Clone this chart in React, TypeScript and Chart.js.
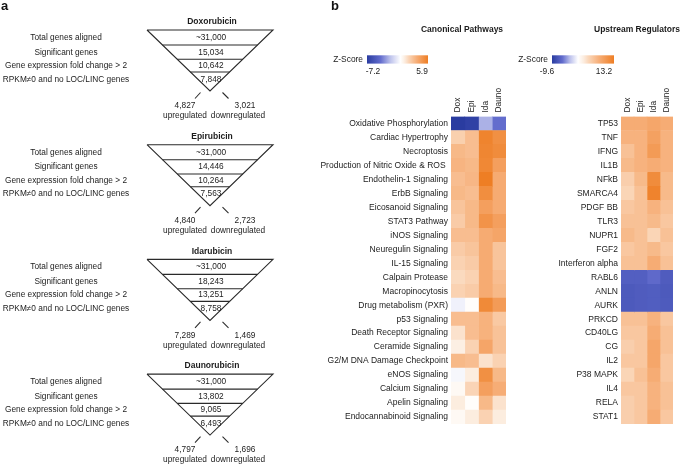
import React, { useEffect, useRef } from 'react';
import { Chart, registerables } from 'chart.js';

Chart.register(...registerables);

const FONT = '"Liberation Sans", Arial, Helvetica, sans-serif';
const TEXT = '#1c1c1c';
const LINE = '#2a2a2a';

// ---------- Panel a data ----------
const drugs = ['Doxorubicin', 'Epirubicin', 'Idarubicin', 'Daunorubicin'];
const stepLabels = [
  'Total genes aligned',
  'Significant genes',
  'Gene expression fold change > 2',
  'RPKM\u22600 and no LOC/LINC genes',
];
const totalAligned = ['~31,000', '~31,000', '~31,000', '~31,000'];
const significantGenes = [15034, 14446, 18243, 13802];
const foldChangeGenes = [10642, 10264, 13251, 9065];
const filteredGenes = [7848, 7563, 8758, 6493];
const upregulated = [4827, 4840, 7289, 4797];
const downregulated = [3021, 2723, 1469, 1696];

// ---------- Panel b data ----------
const drugShort = ['Dox', 'Epi', 'Ida', 'Dauno'];

const canonicalPathways = [
  'Oxidative Phosphorylation',
  'Cardiac Hypertrophy',
  'Necroptosis',
  'Production of Nitric Oxide & ROS ',
  'Endothelin-1 Signaling',
  'ErbB Signaling',
  'Eicosanoid Signaling',
  'STAT3 Pathway',
  'iNOS Signaling',
  'Neuregulin Signaling',
  'IL-15 Signaling',
  'Calpain Protease',
  'Macropinocytosis',
  'Drug metabolism (PXR)',
  'p53 Signaling',
  'Death Receptor Signaling',
  'Ceramide Signaling',
  'G2/M DNA Damage Checkpoint',
  'eNOS Signaling',
  'Calcium Signaling',
  'Apelin Signaling',
  'Endocannabinoid Signaling',
];
const cpDox = [-7.2, 2.0, 3.0, 3.2, 2.8, 3.0, 2.5, 2.2, 2.8, 2.2, 1.9, 1.6, 1.9, -0.5, 2.8, 1.3, 0.8, 3.0, -0.3, 0.3, 0.9, 0.3];
const cpEpi = [-6.9, 2.8, 2.8, 3.0, 3.1, 2.8, 3.0, 3.0, 2.8, 2.5, 2.2, 1.9, 2.2, 0.1, 2.8, 2.8, 1.9, 2.8, 0.9, 1.8, 0.1, 0.9];
const cpIda = [-2.6, 5.6, 5.5, 5.4, 5.9, 5.1, 4.2, 4.8, 3.6, 3.6, 3.6, 3.6, 3.6, 5.3, 3.3, 3.3, 3.9, 1.3, 5.0, 4.2, 3.0, 1.9];
const cpDauno = [-4.3, 5.0, 5.2, 4.2, 3.6, 3.6, 3.6, 4.2, 3.9, 2.5, 2.5, 2.8, 3.0, 4.4, 2.3, 2.6, 2.6, 1.9, 3.0, 3.5, 1.3, 0.9];
const cpRange = [-7.2, 5.9];

const upstreamRegulators = [
  'TP53', 'TNF', 'IFNG', 'IL1B', 'NFkB', 'SMARCA4', 'PDGF BB', 'TLR3', 'NUPR1', 'FGF2',
  'Interferon alpha', 'RABL6', 'ANLN', 'AURK', 'PRKCD', 'CD40LG', 'CG', 'IL2', 'P38 MAPK',
  'IL4', 'RELA', 'STAT1',
];
const urDox = [7.9, 7.3, 5.9, 6.6, 4.6, 4.0, 5.3, 5.9, 6.6, 5.3, 5.9, -6.8, -7.2, -7.2, 5.9, 5.3, 4.6, 5.3, 4.0, 5.3, 4.6, 4.6];
const urEpi = [7.9, 7.3, 7.3, 7.3, 6.6, 5.9, 5.9, 5.9, 5.9, 5.9, 5.9, -6.8, -7.0, -7.0, 5.9, 5.3, 5.3, 5.3, 5.9, 5.3, 5.3, 5.3];
const urIda = [8.6, 9.2, 9.9, 7.9, 11.6, 12.6, 7.3, 6.6, 4.0, 6.6, 7.9, -6.0, -6.9, -6.9, 7.3, 7.9, 8.6, 8.6, 7.9, 7.3, 7.3, 7.9];
const urDauno = [7.9, 7.3, 7.3, 7.3, 6.6, 6.6, 5.9, 5.3, 5.9, 5.3, 5.9, -7.0, -7.2, -7.1, 5.3, 5.9, 5.9, 5.3, 5.3, 5.9, 5.9, 5.3];
const urRange = [-9.6, 13.2];

// ---------- colour scale ----------
type Stop = [number, [number, number, number]];
const blueStops: Stop[] = [
  [0, [255, 255, 255]],
  [0.3, [190, 195, 236]],
  [0.6, [98, 108, 205]],
  [1, [42, 60, 160]],
];
const orangeStops: Stop[] = [
  [0, [255, 255, 255]],
  [0.15, [252, 237, 224]],
  [0.3, [250, 213, 183]],
  [0.6, [246, 172, 116]],
  [1, [238, 126, 36]],
];
function interp(stops: Stop[], t: number) {
  t = Math.max(0, Math.min(1, t));
  for (let i = 1; i < stops.length; i++) {
    const [t1, c1] = stops[i];
    const [t0, c0] = stops[i - 1];
    if (t <= t1) {
      const f = (t - t0) / (t1 - t0);
      const c = c0.map((v, k) => Math.round(v + (c1[k] - v) * f));
      return `rgb(${c[0]},${c[1]},${c[2]})`;
    }
  }
  const c = stops[stops.length - 1][1];
  return `rgb(${c[0]},${c[1]},${c[2]})`;
}
function colorFor(z: number, min: number, max: number) {
  return z < 0 ? interp(blueStops, z / min) : interp(orangeStops, z / max);
}

// ---------- funnel layout ----------
const FUN = {
  step: 114.7,
  top: 30,
  left: 147,
  right: 273,
  apexX: 210,
  apexY: 91,
  levels: [45, 59.3, 72],
  rowY: [37.7, 52.3, 65.7, 79.3],
  labelX: 66,
  numX: 211,
  titleX: 212,
  titleY: 22,
  countY: 106,
  wordY: 116,
};

function sideX(y: number, side: 'l' | 'r') {
  const f = (y - FUN.top) / (FUN.apexY - FUN.top);
  return side === 'l'
    ? FUN.left + (FUN.apexX - FUN.left) * f
    : FUN.right - (FUN.right - FUN.apexX) * f;
}

const fmt = (n: number) => n.toLocaleString('en-US');

function FunnelPanel() {
  const ref = useRef<HTMLCanvasElement | null>(null);
  useEffect(() => {
    const datasets: any[] = [];
    const seg = (pts: { x: number; y: number }[]) =>
      datasets.push({
        data: pts,
        showLine: true,
        pointRadius: 0,
        borderColor: LINE,
        borderWidth: 1.1,
        fill: false,
        tension: 0,
      });
    drugs.forEach((_, i) => {
      const o = i * FUN.step;
      seg([
        { x: FUN.left, y: FUN.top + o },
        { x: FUN.right, y: FUN.top + o },
        { x: FUN.apexX, y: FUN.apexY + o },
        { x: FUN.left, y: FUN.top + o },
      ]);
      FUN.levels.forEach((ly) => {
        seg([
          { x: sideX(ly, 'l'), y: ly + o },
          { x: sideX(ly, 'r'), y: ly + o },
        ]);
      });
      seg([
        { x: 195, y: 98.5 + o },
        { x: 200.5, y: 92.5 + o },
      ]);
      seg([
        { x: 222.5, y: 92.5 + o },
        { x: 228.5, y: 98.5 + o },
      ]);
    });

    const textPlugin = {
      id: 'funnelText',
      afterDraw(chart: any) {
        const { ctx, scales } = chart;
        const X = (v: number) => scales.x.getPixelForValue(v);
        const Y = (v: number) => scales.y.getPixelForValue(v);
        ctx.save();
        ctx.fillStyle = '#111';
        ctx.textBaseline = 'top';
        ctx.textAlign = 'left';
        ctx.font = `bold 13px ${FONT}`;
        ctx.fillText('a', X(1), Y(0));
        ctx.fillText('b', X(331), Y(0));
        ctx.fillStyle = TEXT;
        ctx.textBaseline = 'middle';
        ctx.textAlign = 'center';
        drugs.forEach((name, i) => {
          const o = i * FUN.step;
          ctx.font = `bold 8.5px ${FONT}`;
          ctx.fillText(name, X(FUN.titleX), Y(FUN.titleY + o));
          ctx.font = `8.3px ${FONT}`;
          const vals = [
            totalAligned[i],
            fmt(significantGenes[i]),
            fmt(foldChangeGenes[i]),
            fmt(filteredGenes[i]),
          ];
          stepLabels.forEach((lab, k) => {
            ctx.fillText(lab, X(FUN.labelX), Y(FUN.rowY[k] + o));
            ctx.fillText(vals[k], X(FUN.numX), Y(FUN.rowY[k] + o));
          });
          ctx.fillText(fmt(upregulated[i]), X(185), Y(FUN.countY + o));
          ctx.fillText('upregulated', X(185), Y(FUN.wordY + o));
          ctx.fillText(fmt(downregulated[i]), X(245), Y(FUN.countY + o));
          ctx.fillText('downregulated', X(238), Y(FUN.wordY + o));
        });
        ctx.restore();
      },
    };

    const chart = new Chart(ref.current as HTMLCanvasElement, {
      type: 'scatter',
      data: { datasets },
      options: {
        animation: false,
        responsive: false,
        events: [],
        layout: { padding: 0 },
        plugins: { legend: { display: false }, tooltip: { enabled: false } },
        scales: {
          x: { type: 'linear', min: 0, max: 340, display: false },
          y: { type: 'linear', min: 0, max: 464, reverse: true, display: false },
        },
      },
      plugins: [textPlugin],
    } as any);
    return () => chart.destroy();
  }, []);
  return (
    <canvas
      ref={ref}
      width={340}
      height={464}
      style={{ position: 'absolute', left: 0, top: 0, width: 340, height: 464 }}
    />
  );
}

type HeatCfg = {
  left: number;
  width: number;
  areaLeft: number;
  areaRight: number;
  rows: string[];
  cols: number[][];
  range: number[];
  title: string;
  titleX: number;
  barX0: number;
  barX1: number;
  minX: number;
  maxX: number;
};

const AREA_TOP = 116.5;
const AREA_BOTTOM = 424;

function Heatmap({ cfg }: { cfg: HeatCfg }) {
  const ref = useRef<HTMLCanvasElement | null>(null);
  useEffect(() => {
    const [min, max] = cfg.range;
    const datasets = drugShort.map((d, j) => ({
      label: d,
      data: cfg.rows.map(() => [j, j + 1]),
      backgroundColor: cfg.rows.map((_, r) => colorFor(cfg.cols[j][r], min, max)),
      borderWidth: 0,
      grouped: false,
      barPercentage: 1,
      categoryPercentage: 1,
    }));

    const decor = {
      id: 'heatDecor',
      afterDraw(chart: any) {
        const ctx = chart.ctx;
        const off = cfg.left;
        const xs = chart.scales.x;
        ctx.save();
        ctx.fillStyle = TEXT;
        ctx.textAlign = 'center';
        ctx.textBaseline = 'middle';
        ctx.font = `bold 8.5px ${FONT}`;
        ctx.fillText(cfg.title, cfg.titleX - off, 30);
        const g = ctx.createLinearGradient(cfg.barX0 - off, 0, cfg.barX1 - off, 0);
        for (let k = 0; k <= 80; k++) {
          const s = k / 80;
          g.addColorStop(s, colorFor(min + (max - min) * s, min, max));
        }
        ctx.fillStyle = g;
        ctx.fillRect(cfg.barX0 - off, 55.3, cfg.barX1 - cfg.barX0, 8.3);
        ctx.fillStyle = TEXT;
        ctx.font = `8.4px ${FONT}`;
        ctx.textAlign = 'right';
        ctx.fillText('Z-Score', cfg.barX0 - 4 - off, 59.8);
        ctx.textAlign = 'center';
        ctx.fillText(String(min), cfg.minX - off, 72);
        ctx.fillText(String(max), cfg.maxX - off, 72);
        // column labels, rotated, placed on the x scale
        ctx.font = `8.4px ${FONT}`;
        ctx.textAlign = 'left';
        ctx.textBaseline = 'middle';
        drugShort.forEach((d, j) => {
          const px = xs.getPixelForValue(j + 0.5);
          ctx.save();
          ctx.translate(px, chart.chartArea.top - 4);
          ctx.rotate(-Math.PI / 2);
          ctx.fillText(d, 0, 0);
          ctx.restore();
        });
        ctx.restore();
      },
    };

    const chart = new Chart(ref.current as HTMLCanvasElement, {
      type: 'bar',
      data: { labels: cfg.rows, datasets },
      options: {
        animation: false,
        responsive: false,
        events: [],
        indexAxis: 'y',
        layout: {
          padding: { left: 0, top: 0, right: cfg.left + cfg.width - cfg.areaRight, bottom: 464 - AREA_BOTTOM },
        },
        plugins: { legend: { display: false }, tooltip: { enabled: false } },
        scales: {
          x: {
            type: 'linear',
            position: 'top',
            min: 0,
            max: 4,
            grid: { display: false, drawTicks: false },
            border: { display: false },
            afterFit: (scale: any) => {
              scale.height = AREA_TOP;
            },
            ticks: { display: false },
          },
          y: {
            type: 'category',
            grid: { display: false, drawTicks: false },
            border: { display: false },
            afterFit: (scale: any) => {
              scale.width = cfg.areaLeft - cfg.left;
            },
            ticks: {
              autoSkip: false,
              padding: 3,
              color: TEXT,
              font: { family: FONT, size: 8.5 },
            },
          },
        },
      },
      plugins: [decor],
    } as any);
    return () => chart.destroy();
  }, [cfg]);
  return (
    <canvas
      ref={ref}
      width={cfg.width}
      height={464}
      style={{ position: 'absolute', left: cfg.left, top: 0, width: cfg.width, height: 464 }}
    />
  );
}

const canonicalCfg: HeatCfg = {
  left: 260,
  width: 250,
  areaLeft: 451,
  areaRight: 506,
  rows: canonicalPathways,
  cols: [cpDox, cpEpi, cpIda, cpDauno],
  range: cpRange,
  title: 'Canonical Pathways',
  titleX: 462,
  barX0: 367,
  barX1: 428,
  minX: 373,
  maxX: 422,
};

const upstreamCfg: HeatCfg = {
  left: 510,
  width: 170,
  areaLeft: 621,
  areaRight: 673,
  rows: upstreamRegulators,
  cols: [urDox, urEpi, urIda, urDauno],
  range: urRange,
  title: 'Upstream Regulators',
  titleX: 637,
  barX0: 552,
  barX1: 614,
  minX: 547,
  maxX: 604,
};

export default function App() {
  return (
    <div
      style={{
        position: 'fixed',
        left: 0,
        top: 0,
        width: 680,
        height: 464,
        background: '#ffffff',
        overflow: 'hidden',
      }}
    >
      <FunnelPanel />
      <Heatmap cfg={canonicalCfg} />
      <Heatmap cfg={upstreamCfg} />
    </div>
  );
}
